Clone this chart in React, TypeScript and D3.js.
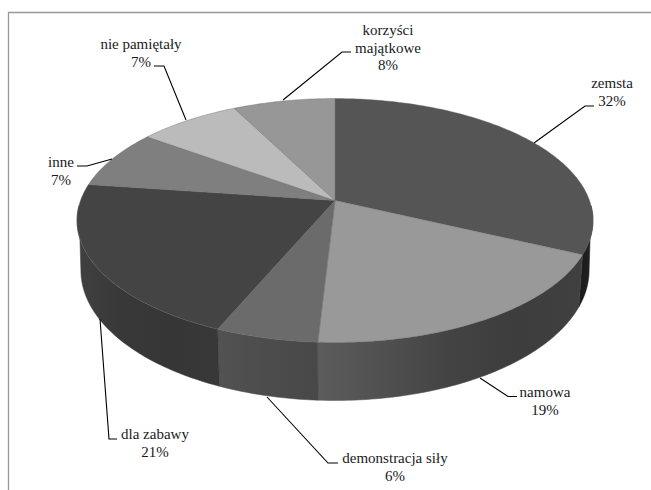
import React from "react";
import * as d3 from "d3";

const categories = ["zemsta", "namowa", "demonstracja siły", "dla zabawy", "inne", "nie pamiętały", "korzyści majątkowe"];
const shares = [32, 18.9, 5.5, 20.8, 7.8, 7.5, 7.5];
const percentLabels = ["32%", "19%", "6%", "21%", "7%", "7%", "8%"];
const topColors = ["#555555", "#999999", "#6b6b6b", "#444444", "#7f7f7f", "#bbbbbb", "#979797"];
const sideStops = [
  ["#242424", "#1c1c1c"],
  ["#404040", "#3d3d3d", "#434343", "#505050", "#5c5c5c"],
  ["#484848", "#4c4c4c", "#525252"],
  ["#383838", "#363636", "#383838", "#404040"],
  ["#444444", "#444444"],
  ["#555555", "#555555"],
  ["#555555", "#555555"],
];
const labelLines = [["zemsta", "32%"], ["namowa", "19%"], ["demonstracja siły", "6%"], ["dla zabawy", "21%"], ["inne", "7%"], ["nie pamiętały", "7%"], ["korzyści", "majątkowe", "8%"]];
const labelAnchors: [number, number][] = [[612, 88], [545, 397], [395, 463], [155, 439], [61, 167], [141, 49], [388, 35]];
const leaders: [number, number][][] = [
  [[534, 143], [585, 106], [594, 106]],
  [[480, 378], [508, 396.5], [517, 396.5]],
  [[267, 397], [328, 463], [338, 463]],
  [[100, 319], [109, 439], [117, 439]],
  [[112, 159], [87, 166], [77, 166]],
  [[186, 120], [164, 66], [154, 66]],
  [[283, 100], [342, 52], [351, 52]],
];

const W = 651, H = 490;
const cx = 335, cy = 200.5;
const R = 254.5, B = 118.7, k = 0.164, depth = 48.5, bottomShrink = 0.985, lead = 0.12;

// perspective projection of a disc point at clockwise angle a from the far side
const project = (a: number, drop = 0): [number, number] => {
  const u = Math.sin(a), v = Math.cos(a), w = 1 + k * v;
  const s = drop > 0 ? bottomShrink : 1;
  return [cx + (R * s * u) / w, cy + (-B * v + drop) / w];
};

const pie = d3.pie<number>().value((d) => d).sort(null).startAngle(0).endAngle(2 * Math.PI);
const arcs = pie(shares);

const ringPath = (a0: number, a1: number, drop: number, path: d3.Path, move: boolean) => {
  const n = Math.max(4, Math.ceil(Math.abs(a1 - a0) * 60));
  d3.range(n + 1).forEach((i) => {
    const [x, y] = project(a0 + ((a1 - a0) * i) / n, drop);
    if (i === 0 && move) path.moveTo(x, y);
    else path.lineTo(x, y);
  });
};

const topPath = (a0: number, a1: number) => {
  const p = d3.path();
  p.moveTo(cx, cy);
  ringPath(a0, a1, 0, p, false);
  p.closePath();
  return p.toString();
};

const silR = Math.acos(-k);
const silL = 2 * Math.PI - silR;

const sidePath = (a0: number, a1: number) => {
  const p = d3.path();
  ringPath(a0 === silR ? a0 - lead : a0, a1 === silL ? a1 + lead : a1, 0, p, true);
  ringPath(a1, a0, depth, p, false);
  p.closePath();
  return p.toString();
};

export default function App() {
  const sides = arcs
    .map((d, i) => ({ a0: Math.max(d.startAngle, silR), a1: Math.min(d.endAngle, silL), i }))
    .filter((s) => s.a1 > s.a0);
  return (
    <svg width={W} height={H} style={{ position: "absolute", left: 0, top: 0 }} fontFamily="'Liberation Serif', serif">
      <defs>
        {sides.map((s) => {
          const xA = project(s.a0)[0], xB = project(s.a1)[0];
          const stops = sideStops[s.i];
          return (
            <linearGradient key={s.i} id={`side${s.i}`} gradientUnits="userSpaceOnUse" x1={xA} x2={xB} y1={0} y2={0}>
              {stops.map((c, j) => (
                <stop key={j} offset={j / (stops.length - 1)} stopColor={c} />
              ))}
            </linearGradient>
          );
        })}
      </defs>
      <rect width={W} height={H} fill="#fff" />
      <path d={`M8.5,${H}V12.5H${W}`} fill="none" stroke="#989898" strokeWidth={1.3} />
      {sides.map((s) => (
        <path key={s.i} d={sidePath(s.a0, s.a1)} fill={`url(#side${s.i})`} stroke={`url(#side${s.i})`} strokeWidth={0.5} />
      ))}
      {arcs.map((d, i) => (
        <path key={i} d={topPath(d.startAngle, d.endAngle)} fill={topColors[i]} stroke="#6a6a6a" strokeWidth={0.4} strokeLinejoin="round" />
      ))}
      {leaders.map((pts, i) => (
        <path key={i} d={d3.line()(pts) ?? ""} fill="none" stroke="#000" strokeWidth={1.1} />
      ))}
      {categories.map((name, i) => (
        <text key={name} aria-label={`${name} ${percentLabels[i]}`} textAnchor="middle" fontSize={15} fill="#1a1a1a">
          {labelLines[i].map((line, j) => (
            <tspan key={j} x={labelAnchors[i][0]} y={labelAnchors[i][1] + j * 17.5}>
              {line}
            </tspan>
          ))}
        </text>
      ))}
    </svg>
  );
}
